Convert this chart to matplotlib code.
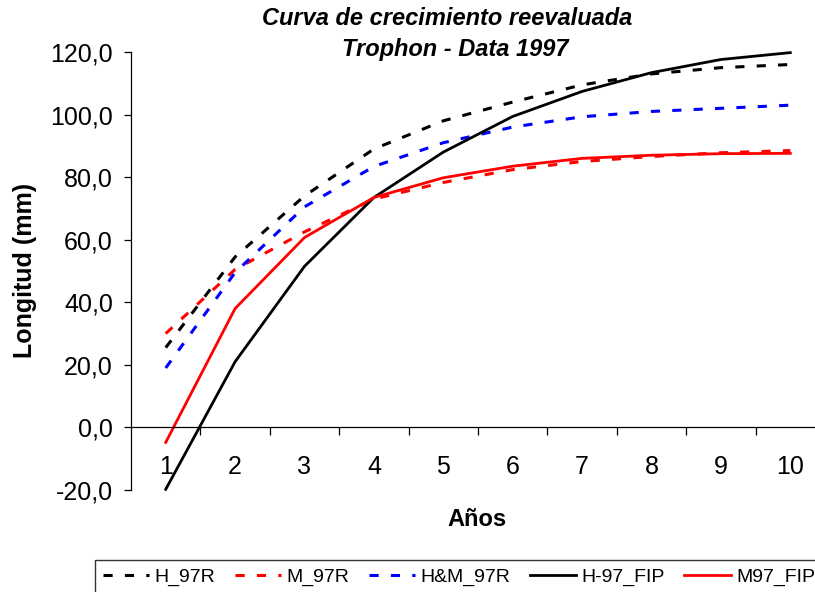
import matplotlib
matplotlib.use("Agg")
import matplotlib.pyplot as plt
import numpy as np

plt.rcParams['font.family'] = ['Liberation Sans', 'DejaVu Sans']

anos = [1, 2, 3, 4, 5, 6, 7, 8, 9, 10]
h_97r = [25.5, 54.5, 74.0, 89.0, 98.0, 104.0, 109.5, 113.0, 115.0, 116.0]
m_97r = [30.0, 50.5, 62.5, 73.0, 78.3, 82.4, 85.0, 86.6, 87.8, 88.5]
hm_97r = [19.0, 49.5, 70.5, 83.4, 91.0, 96.0, 99.3, 101.0, 102.0, 103.0]
h97_fip = [-19.8, 21.0, 51.5, 73.5, 88.0, 99.4, 107.4, 113.4, 117.6, 119.8]
m97_fip = [-4.8, 38.0, 60.7, 73.5, 79.8, 83.5, 86.0, 87.0, 87.5, 87.6]
yticks = [-20, 0, 20, 40, 60, 80, 100, 120]

W, H = 815, 592
fig = plt.figure(figsize=(W / 100, H / 100), dpi=100)
ax = fig.add_axes([131 / W, 1 - 490 / H, (825 - 131) / W, (490 - 52) / H])

dash = (0, (3, 4))
ax.plot(anos, h_97r, color='black', lw=2.2, ls=dash, label='H_97R', clip_on=False)
ax.plot(anos, m_97r, color='red', lw=2.2, ls=dash, label='M_97R', clip_on=False)
ax.plot(anos, hm_97r, color='blue', lw=2.2, ls=dash, label='H&M_97R', clip_on=False)
ax.plot(anos, h97_fip, color='black', lw=2.0, label='H-97_FIP', clip_on=False)
ax.plot(anos, m97_fip, color='red', lw=2.0, label='M97_FIP', clip_on=False)

ax.set_xlim(0.5, 10.5)
ax.set_ylim(-20, 120)

ax.spines['top'].set_visible(False)
ax.spines['right'].set_visible(False)
ax.spines['bottom'].set_position(('data', 0))
ax.spines['left'].set_linewidth(0.9)
ax.spines['bottom'].set_linewidth(0.9)

ax.set_xticks(anos)
ax.set_xticklabels([str(a) for a in anos])
ax.set_xticks(np.arange(1.5, 10.5, 1.0), minor=True)
ax.tick_params(axis='x', which='major', length=0, pad=19.5, labelsize=18)
ax.tick_params(axis='x', which='minor', length=5.5, width=0.9, direction='out')

ax.set_yticks(yticks)
ax.set_yticklabels([f"{v:.1f}".replace('.', ',') for v in yticks])
ax.tick_params(axis='y', length=5, width=0.9, direction='out', pad=8, labelsize=18)

fig.text(447 / W, 1 - 25 / H, 'Curva de crecimiento reevaluada', ha='center',
         va='baseline', fontsize=17, fontweight='bold', fontstyle='italic')
fig.text(455 / W, 1 - 56 / H, 'Trophon - Data 1997', ha='center',
         va='baseline', fontsize=17, fontweight='bold', fontstyle='italic')
fig.text(25 / W, 1 - 270 / H, 'Longitud (mm)', rotation=90, ha='center',
         va='center', fontsize=18, fontweight='bold')
fig.text(477 / W, 1 - 520 / H, 'Años', ha='center', va='center',
         fontsize=17, fontweight='bold')

leg = fig.legend(loc='upper left', bbox_to_anchor=(95 / W, 1 - 560 / H), ncol=5,
                 fontsize=14, frameon=True, fancybox=False, edgecolor='black',
                 borderaxespad=0, borderpad=0.4, handlelength=2.4,
                 handletextpad=0.26, columnspacing=1.0)
leg.get_frame().set_linewidth(1.0)

fig.savefig('out.png', dpi=100)
